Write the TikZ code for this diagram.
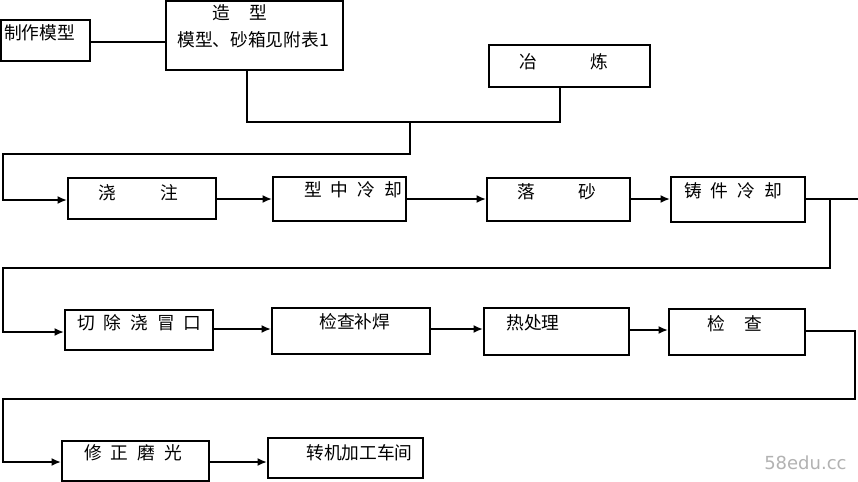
\documentclass[tikz,border=0pt]{standalone}
\usepackage{fontspec}
\newfontfamily\cjk{Noto Sans CJK SC}
\newfontfamily\wm{DejaVu Sans}
\usetikzlibrary{fit,arrows.meta}
\begin{document}
\begin{tikzpicture}[x=0.75pt,y=-0.75pt,
  box/.style={draw, line width=1.6pt, inner sep=0pt},
  lbl/.style={anchor=west, inner sep=0pt, font=\cjk\fontsize{13.3}{13.3}\selectfont},
  ln/.style={line width=1.5pt},
  arr/.style={line width=1.3pt, -{Latex[length=7pt,width=6pt]}}]
\useasboundingbox (0,0) rectangle (858,482);
% boxes
\node[box, fit={(1,20)(90,61)}] (m1) {};
\node[box, fit={(166,1)(343,70)}] (m2) {};
\node[box, fit={(489,45)(650,87)}] (m3) {};
\node[box, fit={(68,178)(216,219)}] (b1) {};
\node[box, fit={(273,177)(406,221)}] (b2) {};
\node[box, fit={(487,178)(630,221)}] (b3) {};
\node[box, fit={(671,177)(805,222)}] (b4) {};
\node[box, fit={(65,310)(213,350)}] (c1) {};
\node[box, fit={(272,308)(430,354)}] (c2) {};
\node[box, fit={(484,308)(629,355)}] (c3) {};
\node[box, fit={(669,309)(805,355)}] (c4) {};
\node[box, fit={(62,441)(209,481)}] (d1) {};
\node[box, fit={(268,438)(423,478)}] (d2) {};
% texts
\node[lbl] (t1) at (4,33) {制作模型};
\node[lbl] (t2a) at (212,13) {造\hspace{14.3pt}型};
\node[lbl] (t2b) at (177,40) {模型、砂箱见附表1};
\node[lbl] (t3) at (519,62) {冶\hspace{40pt}炼};
\node[lbl] (t4) at (98,193) {浇\hspace{33.5pt}注};
\node[lbl] (t5) at (304,190) {型\hspace{6.7pt}中\hspace{6.7pt}冷\hspace{6.7pt}却};
\node[lbl] (t6) at (517,192) {落\hspace{32.5pt}砂};
\node[lbl] (t7) at (684,191) {铸\hspace{6.7pt}件\hspace{6.7pt}冷\hspace{6.7pt}却};
\node[lbl] (t8) at (77,323) {切\hspace{6.7pt}除\hspace{6.7pt}浇\hspace{6.7pt}冒\hspace{6.7pt}口};
\node[lbl] (t9) at (319,322) {检查补焊};
\node[lbl] (t10) at (506,323) {热处理};
\node[lbl] (t11) at (707,324) {检\hspace{14.3pt}查};
\node[lbl] (t12) at (84,453) {修\hspace{6.7pt}正\hspace{6.7pt}磨\hspace{6.7pt}光};
\node[lbl] (t13) at (306,453) {转机加工车间};
\node[anchor=west, inner sep=0pt, text=gray!60, font=\wm\fontsize{13.5}{13.5}\selectfont] (wm) at (764,463) {58edu.cc};
% junction coordinates
\coordinate (j1) at (410,122);
\coordinate (j2) at (830,199);
\coordinate (j3) at (858,199);
% connectors
\draw[ln] (m1.east |- 0,42) -- (m2.west |- 0,42);
\draw[ln] (m2.south -| 247,0) |- (j1) -| (m3.south -| 560,0);
\draw[arr] (j1) -- (410,154) -- (3,154) -- (3,200) -- (b1.west |- 0,200);
\draw[arr] (b1.east |- 0,199) -- (b2.west |- 0,199);
\draw[arr] (b2.east |- 0,199) -- (b3.west |- 0,199);
\draw[arr] (b3.east |- 0,199) -- (b4.west |- 0,199);
\draw[ln] (b4.east |- 0,199) -- (j3);
\draw[arr] (j2) -- (830,268) -- (3,268) -- (3,332) -- (c1.west |- 0,332);
\draw[arr] (c1.east |- 0,329) -- (c2.west |- 0,329);
\draw[arr] (c2.east |- 0,329) -- (c3.west |- 0,329);
\draw[arr] (c3.east |- 0,330) -- (c4.west |- 0,330);
\draw[arr] (c4.east |- 0,331) -- (855,331) -- (855,399) -- (3,399) -- (3,462) -- (d1.west |- 0,462);
\draw[arr] (d1.east |- 0,462) -- (d2.west |- 0,462);
\end{tikzpicture}
\end{document}
